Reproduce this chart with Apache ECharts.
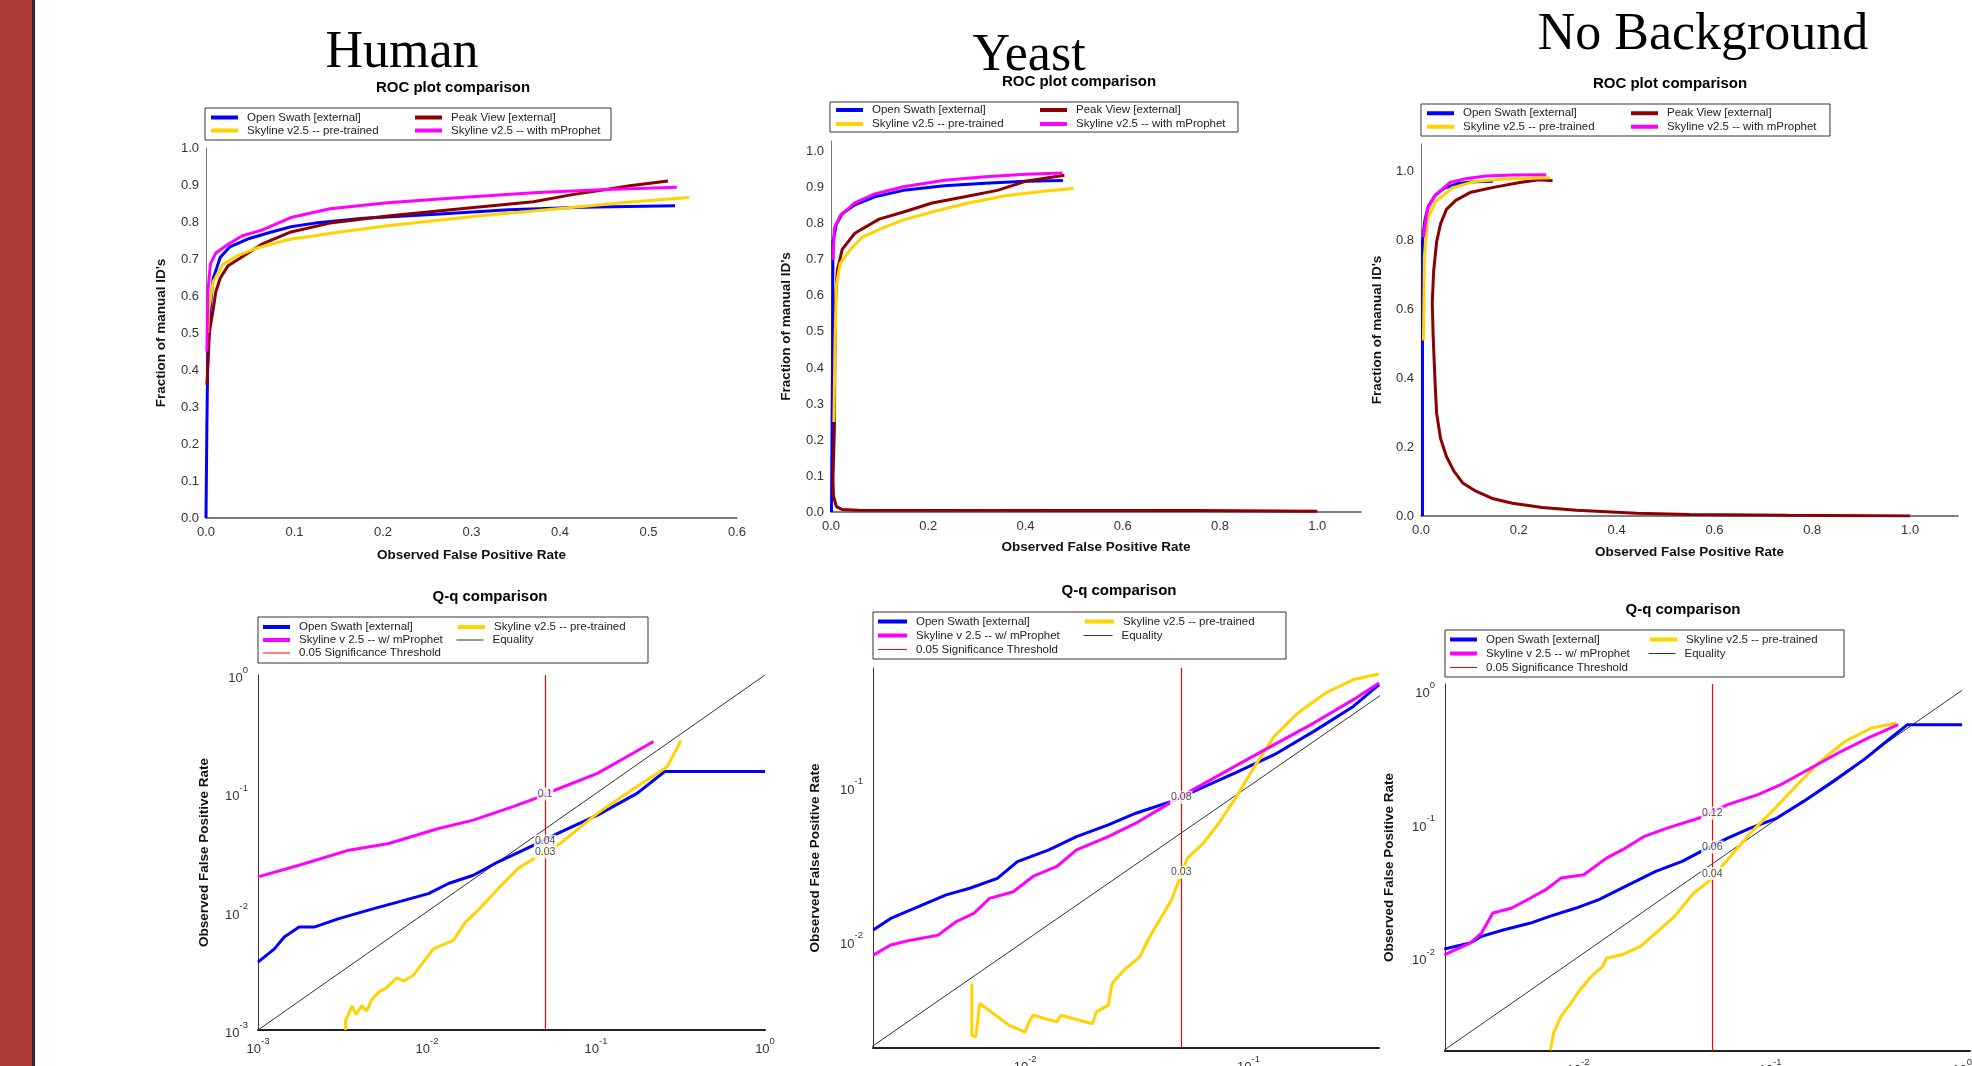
<!DOCTYPE html>
<html><head><meta charset="utf-8">
<script src="https://cdn.jsdelivr.net/npm/echarts@6/dist/echarts.min.js"></script>
<style>html,body{margin:0;padding:0;background:#fff}#c{width:1972px;height:1066px}</style>
</head><body><div id="c"></div>
<script>
// ---------- DATA ----------
const panelTitles = ['Human', 'Yeast', 'No Background'];
const rocTitle = 'ROC plot comparison';
const qqTitle = 'Q-q comparison';
const rocNames = ['Open Swath [external]', 'Peak View [external]', 'Skyline v2.5 -- pre-trained', 'Skyline v2.5 -- with mProphet'];
const qqNames = ['Open Swath [external]', 'Skyline v2.5 -- pre-trained', 'Skyline v 2.5 -- w/ mProphet', 'Equality', '0.05 Significance Threshold'];
const rocXName = 'Observed False Positive Rate', rocYName = "Fraction of manual ID's";
const qqXName = 'Expected False Positive Rate', qqYName = 'Observed False Positive Rate';

// ROC – Human
const rocHumanBlue = [[0,0],[0.001,0.25],[0.002,0.435],[0.004,0.55],[0.008,0.646],[0.016,0.704],[0.027,0.733],[0.047,0.754],[0.074,0.773],[0.096,0.787],[0.123,0.797],[0.178,0.81],[0.26,0.821],[0.342,0.833],[0.425,0.84],[0.53,0.844]];
const rocHumanRed = [[0.001,0.36],[0.004,0.505],[0.008,0.562],[0.011,0.61],[0.016,0.648],[0.025,0.682],[0.041,0.706],[0.063,0.74],[0.096,0.773],[0.14,0.797],[0.205,0.816],[0.288,0.836],[0.37,0.855],[0.414,0.874],[0.452,0.888],[0.479,0.898],[0.522,0.911]];
const rocHumanYellow = [[0.002,0.5],[0.003,0.562],[0.008,0.637],[0.019,0.685],[0.036,0.71],[0.058,0.73],[0.096,0.754],[0.123,0.763],[0.151,0.773],[0.205,0.79],[0.26,0.804],[0.315,0.818],[0.37,0.83],[0.425,0.842],[0.479,0.854],[0.546,0.866]];
const rocHumanMagenta = [[0.001,0.45],[0.002,0.61],[0.005,0.687],[0.011,0.716],[0.025,0.74],[0.041,0.763],[0.063,0.778],[0.096,0.812],[0.14,0.836],[0.205,0.852],[0.288,0.866],[0.37,0.879],[0.452,0.888],[0.532,0.894]];
// ROC – Yeast
const rocYeastBlue = [[0.001,0],[0.003,0.4],[0.004,0.749],[0.011,0.799],[0.023,0.828],[0.049,0.853],[0.09,0.875],[0.149,0.893],[0.233,0.906],[0.317,0.913],[0.4,0.918],[0.477,0.92]];
const rocYeastRed = [[1.0,0.002],[0.748,0.004],[0.057,0.005],[0.023,0.007],[0.011,0.015],[0.005,0.045],[0.004,0.094],[0.007,0.233],[0.008,0.43],[0.009,0.58],[0.013,0.67],[0.023,0.729],[0.049,0.774],[0.099,0.813],[0.149,0.833],[0.208,0.858],[0.275,0.875],[0.342,0.893],[0.4,0.918],[0.48,0.935]];
const rocYeastYellow = [[0.006,0.25],[0.008,0.45],[0.011,0.63],[0.019,0.69],[0.04,0.729],[0.065,0.764],[0.107,0.789],[0.149,0.811],[0.208,0.833],[0.275,0.856],[0.358,0.878],[0.442,0.891],[0.499,0.898]];
const rocYeastMagenta = [[0.004,0.7],[0.007,0.789],[0.019,0.823],[0.049,0.858],[0.09,0.883],[0.149,0.903],[0.233,0.921],[0.317,0.931],[0.4,0.938],[0.476,0.941]];
// ROC – No Background
const rocNoBgBlue = [[0.003,0],[0.003,0.8],[0.008,0.86],[0.015,0.9],[0.029,0.932],[0.048,0.953],[0.079,0.967],[0.11,0.971],[0.147,0.973]];
const rocNoBgRed = [[1.0,0.0],[0.75,0.002],[0.549,0.004],[0.441,0.008],[0.318,0.017],[0.248,0.025],[0.187,0.037],[0.148,0.05],[0.11,0.074],[0.086,0.095],[0.067,0.131],[0.052,0.173],[0.04,0.225],[0.032,0.298],[0.029,0.381],[0.025,0.516],[0.023,0.62],[0.026,0.714],[0.032,0.797],[0.04,0.849],[0.052,0.891],[0.071,0.917],[0.102,0.941],[0.148,0.955],[0.202,0.969],[0.241,0.977],[0.269,0.974]];
const rocNoBgYellow = [[0.005,0.51],[0.007,0.755],[0.013,0.86],[0.029,0.912],[0.063,0.953],[0.11,0.972],[0.171,0.979],[0.264,0.983]];
const rocNoBgMagenta = [[0.005,0.81],[0.013,0.892],[0.029,0.932],[0.059,0.969],[0.094,0.981],[0.133,0.988],[0.187,0.991],[0.256,0.992]];

// Q-q – Human
const qqHumanBlue = [[0.001,0.00374],[0.00125,0.00485],[0.00143,0.0061],[0.00175,0.00741],[0.00215,0.00741],[0.00301,0.00873],[0.00484,0.0106],[0.00679,0.0121],[0.0102,0.0142],[0.0134,0.0173],[0.0188,0.0203],[0.0264,0.0264],[0.0429,0.0365],[0.0594,0.0458],[0.102,0.0655],[0.175,0.1],[0.255,0.153],[1.0,0.153]];
const qqHumanMagenta = [[0.001,0.0197],[0.00175,0.0247],[0.00345,0.0331],[0.00594,0.0377],[0.0117,0.0505],[0.0188,0.0594],[0.0323,0.0771],[0.0469,0.0937],[0.0574,0.1067],[0.102,0.1476],[0.153,0.2046],[0.219,0.274]];
const qqHumanYellow = [[0.0033,0.001],[0.0033,0.0012],[0.0036,0.0016],[0.0038,0.00135],[0.0041,0.0016],[0.0044,0.00145],[0.0047,0.0018],[0.0052,0.0021],[0.0058,0.0023],[0.0066,0.00275],[0.0073,0.0026],[0.0083,0.0029],[0.0109,0.00485],[0.0143,0.00571],[0.0169,0.00817],[0.0201,0.0103],[0.0264,0.0157],[0.0345,0.0231],[0.0429,0.0281],[0.0614,0.0377],[0.102,0.0678],[0.175,0.114],[0.264,0.168],[0.318,0.278]];
const qqHumanLabelY = [0.0987, 0.0394, 0.032];
const qqHumanLabelText = ['0.1', '0.04', '0.03'];
// Q-q – Yeast
const qqYeastBlue = [[0.00209,0.01173],[0.0025,0.01396],[0.00333,0.01663],[0.00443,0.01982],[0.00565,0.0219],[0.00751,0.0254],[0.00923,0.0326],[0.01277,0.0388],[0.01698,0.0473],[0.02355,0.0564],[0.0313,0.0671],[0.0452,0.08],[0.0589,0.0951],[0.0867,0.1222],[0.1303,0.1607],[0.1959,0.2276],[0.2944,0.3304],[0.384,0.457]];
const qqYeastMagenta = [[0.00209,0.00807],[0.0025,0.00938],[0.00307,0.01009],[0.00408,0.01088],[0.0049,0.01328],[0.00589,0.01503],[0.00693,0.01882],[0.00885,0.0208],[0.01084,0.0261],[0.01386,0.0303],[0.01698,0.0388],[0.02355,0.0473],[0.0313,0.0578],[0.0443,0.078],[0.0589,0.0986],[0.0867,0.1349],[0.1303,0.1866],[0.1959,0.2576],[0.2944,0.3655],[0.384,0.469]];
const qqYeastYellow = [[0.00577,0.00528],[0.00577,0.00244],[0.00601,0.00238],[0.00626,0.00392],[0.00722,0.00337],[0.00849,0.00283],[0.01,0.00256],[0.01042,0.00298],[0.01084,0.00329],[0.01386,0.00298],[0.01442,0.00329],[0.02,0.0029],[0.02084,0.00346],[0.02355,0.00382],[0.0245,0.00528],[0.02767,0.00645],[0.0326,0.00787],[0.0361,0.01062],[0.04,0.01362],[0.0452,0.01837],[0.0532,0.0343],[0.0626,0.0428],[0.0736,0.0578],[0.0903,0.0906],[0.1064,0.1349],[0.1303,0.2114],[0.1663,0.2993],[0.2213,0.4035],[0.2944,0.4932],[0.384,0.5363]];
const qqYeastLabelY = [0.0849, 0.0278];
const qqYeastLabelText = ['0.08', '0.03'];
// Q-q – No Background
const qqNoBgBlue = [[0.00201,0.01148],[0.00229,0.01202],[0.00274,0.01274],[0.00314,0.01429],[0.00412,0.01603],[0.00566,0.01799],[0.00711,0.02018],[0.00977,0.02331],[0.01283,0.02692],[0.01765,0.0339],[0.02536,0.0439],[0.03483,0.0522],[0.04375,0.062],[0.0601,0.078],[0.0789,0.0927],[0.1086,0.1102],[0.1493,0.1469],[0.2145,0.2075],[0.3083,0.302],[0.4046,0.4145],[0.5194,0.5525],[1.0,0.5525]];
const qqNoBgMagenta = [[0.00201,0.0104],[0.00274,0.01274],[0.00314,0.01514],[0.0036,0.02138],[0.00452,0.02331],[0.00566,0.0277],[0.00679,0.032],[0.00815,0.0391],[0.01071,0.0414],[0.01406,0.0552],[0.01765,0.0656],[0.02215,0.0804],[0.02911,0.0927],[0.04277,0.1102],[0.0601,0.1388],[0.0865,0.1649],[0.1135,0.1959],[0.1633,0.2614],[0.2349,0.3487],[0.338,0.4519],[0.4645,0.5525]];
const qqNoBgYellow = [[0.00718,0.002],[0.00745,0.00269],[0.00815,0.00359],[0.00893,0.00427],[0.01023,0.00569],[0.01173,0.00716],[0.01343,0.00851],[0.01406,0.00982],[0.01686,0.0104],[0.02115,0.01202],[0.02536,0.01514],[0.03181,0.02018],[0.04,0.0302],[0.04791,0.0369],[0.0601,0.0537],[0.0789,0.0851],[0.1086,0.1349],[0.1361,0.1905],[0.1786,0.2851],[0.2459,0.4145],[0.338,0.5216],[0.454,0.5689]];
const qqNoBgLabelY = [0.12, 0.0668, 0.0422];
const qqNoBgLabelText = ['0.12', '0.06', '0.04'];

const qqThreshold = 0.05;
const qqEquality = [[0.001,0.001],[1,1]];

// ---------- STYLE / LAYOUT ----------
const COL = {blue:'#0000ff', red:'#8b0000', gold:'#ffd200', mag:'#ff00ff', eq:'#333333', thr:'#ff0000'};
const SANS = 'Liberation Sans, Arial, sans-serif';
const CURVE_W = 3;

const rocPanels = [
  {grid:{left:206,top:148,width:531,height:370}, x:[0,0.6,0.1], y:[0,1.0,0.1], xGap:30, yGap:38,
   data:[rocHumanBlue, rocHumanRed, rocHumanYellow, rocHumanMagenta],
   leg:{left:205,top:108,w:402,h:32,lineX:209,len:27,col2:411,rowH:13}},
  {grid:{left:831,top:141,width:530,height:371}, x:[0,1.09,0.2], y:[0,1.03,0.1], xGap:28, yGap:38,
   data:[rocYeastBlue, rocYeastRed, rocYeastYellow, rocYeastMagenta],
   leg:{left:830,top:102,w:404,h:30,lineX:834,len:27,col2:1036,rowH:14}},
  {grid:{left:1421,top:144,width:537,height:372}, x:[0,1.098,0.2], y:[0,1.081,0.2], xGap:29, yGap:37,
   data:[rocNoBgBlue, rocNoBgRed, rocNoBgYellow, rocNoBgMagenta],
   leg:{left:1421,top:104,w:405,h:32,lineX:1425,len:27,col2:1627,rowH:13.5}}
];
const qqPanels = [
  {grid:{left:258,top:675,width:507,height:355}, x:[0.001,1], y:[0.001,1], yGap:47,
   data:[qqHumanBlue, qqHumanYellow, qqHumanMagenta], labY:qqHumanLabelY, labT:qqHumanLabelText,
   leg:{left:258,top:617,w:386,h:46,lineX:261,len:27,col2:454,rowH:13}},
  {grid:{left:873,top:668,width:506,height:380}, x:[0.002084,0.3837], y:[0.002018,0.5861], yGap:51,
   data:[qqYeastBlue, qqYeastYellow, qqYeastMagenta], labY:qqYeastLabelY, labT:qqYeastLabelText,
   leg:{left:873,top:612,w:409,h:47,lineX:876,len:29,col2:1081,rowH:14}},
  {grid:{left:1445,top:684,width:525,height:367}, x:[0.002028,1.099], y:[0.001977,1.114], yGap:49,
   data:[qqNoBgBlue, qqNoBgYellow, qqNoBgMagenta], labY:qqNoBgLabelY, labT:qqNoBgLabelText,
   leg:{left:1445,top:630,w:395,h:47,lineX:1448,len:27,col2:1646,rowH:14}}
];
const titlePos = [[402,53],[1029,56],[1703,35]];
const rocTitlePos = [[453,88],[1079,82],[1670,84]];
const qqTitlePos = [[490,597],[1119,591],[1683,610]];

function fmtVal(step){
  return function(v){ const k=v/step; if(Math.abs(k-Math.round(k))>1e-6) return ''; return v.toFixed(1); };
}
function fmtLog(v){
  const e=Math.log10(v), r=Math.round(e);
  if(Math.abs(e-r)>1e-6) return '';
  return '{b|10}{s|'+r+'}';
}
const logRich = {
  b:{fontSize:13, color:'#333', fontFamily:SANS, verticalAlign:'bottom', lineHeight:20},
  s:{fontSize:9.5, color:'#333', fontFamily:SANS, verticalAlign:'top', lineHeight:20}
};

function mkLegend(L, names, thin){
  const pl = L.lineX - L.left, pr = 4;
  const rows = Math.ceil(names.length/2);
  const pt = (L.h - rows*L.rowH)/2, pb = L.h - rows*L.rowH - pt;
  const C = L.col2 - L.lineX;
  const w1 = C - L.len - 9;
  const w2 = L.w - pl - pr - C - L.len - 9;
  return {
    left:L.left, top:L.top, orient:'horizontal',
    width: C + L.len + 9 + w2 + 30,
    padding:[pt, pr, pb, pl],
    itemWidth:L.len, itemHeight:L.rowH, itemGap:0,
    borderColor:'#333', borderWidth:1, backgroundColor:'#fff',
    selectedMode:false,
    itemStyle:{opacity:0},
    textStyle:{fontSize:11.5, color:'#222', fontFamily:SANS, lineHeight:L.rowH, padding:[0,0,0,4]},
    data:names.map((n,i)=>({name:n, textStyle:{width: i%2===0 ? w1 : w2},
      lineStyle:{width: (thin && thin.indexOf(n)>=0) ? 1 : 4}}))
  };
}

const grid=[], xAxis=[], yAxis=[], series=[], legend=[], graphic=[];

graphic.push({type:'rect', shape:{x:0,y:0,width:32,height:1066}, style:{fill:'#b03a3a'}, silent:true});
graphic.push({type:'rect', shape:{x:32,y:0,width:3,height:1066}, style:{fill:'#2a2a2a'}, silent:true});

function txt(x,y,text,font){
  return {type:'text', x:x, y:y, silent:true,
    style:{text:text, font:font, fill:'#000', align:'center', verticalAlign:'middle', textAlign:'center', textVerticalAlign:'middle'}};
}
panelTitles.forEach((t,i)=>graphic.push(txt(titlePos[i][0], titlePos[i][1], t, '52px "Liberation Serif", "Times New Roman", serif')));
rocTitlePos.forEach(p=>graphic.push(txt(p[0], p[1], rocTitle, 'bold 15px '+SANS)));
qqTitlePos.forEach(p=>graphic.push(txt(p[0], p[1], qqTitle, 'bold 15px '+SANS)));

const nameStyle = {fontWeight:'bold', fontSize:13.5, color:'#111', fontFamily:SANS};

rocPanels.forEach((P,i)=>{
  const g = grid.length;
  grid.push(Object.assign({containLabel:false, outerBoundsMode:'none'}, P.grid));
  xAxis.push({gridIndex:g, type:'value', min:P.x[0], max:P.x[1], interval:P.x[2],
    axisLine:{show:true, onZero:false, lineStyle:{color:'#555', width:1.5}}, axisTick:{show:false}, splitLine:{show:false},
    axisLabel:{formatter:fmtVal(P.x[2]), color:'#333', fontSize:13, fontFamily:SANS, margin:8},
    name:rocXName, nameLocation:'middle', nameGap:P.xGap, nameMoveOverlap:false, nameTextStyle:nameStyle});
  yAxis.push({gridIndex:g, type:'value', min:P.y[0], max:P.y[1], interval:P.y[2],
    axisLine:{show:true, onZero:false, lineStyle:{color:'#777', width:1}}, axisTick:{show:false}, splitLine:{show:false},
    axisLabel:{formatter:fmtVal(P.y[2]), color:'#333', fontSize:13, fontFamily:SANS, margin:7},
    name:rocYName, nameLocation:'middle', nameGap:P.yGap, nameMoveOverlap:false, nameTextStyle:nameStyle});
  const cols = [COL.blue, COL.red, COL.gold, COL.mag];
  P.data.forEach((d,k)=>{
    series.push({type:'line', name:rocNames[k], xAxisIndex:g, yAxisIndex:g, data:d, symbol:'none', showSymbol:false,
      clip:true, lineStyle:{color:cols[k], width:CURVE_W}, itemStyle:{color:cols[k]}, z:2+k});
  });
  legend.push(mkLegend(P.leg, rocNames));
});

qqPanels.forEach((P,i)=>{
  const g = grid.length;
  grid.push(Object.assign({containLabel:false, outerBoundsMode:'none'}, P.grid));
  xAxis.push({gridIndex:g, type:'log', logBase:10, min:P.x[0], max:P.x[1],
    axisLine:{show:true, onZero:false, lineStyle:{color:'#222', width:2}}, axisTick:{show:false}, splitLine:{show:false}, minorTick:{show:false},
    axisLabel:{formatter:fmtLog, rich:logRich, margin:6},
    name:qqXName, nameLocation:'middle', nameGap:34, nameMoveOverlap:false, nameTextStyle:nameStyle});
  yAxis.push({gridIndex:g, type:'log', logBase:10, min:P.y[0], max:P.y[1],
    axisLine:{show:true, onZero:false, lineStyle:{color:'#333', width:1}}, axisTick:{show:false}, splitLine:{show:false}, minorTick:{show:false},
    axisLabel:{formatter:fmtLog, rich:logRich, margin:10},
    name:qqYName, nameLocation:'middle', nameGap:P.yGap, nameMoveOverlap:false, nameTextStyle:nameStyle});
  series.push({type:'line', name:'Equality', xAxisIndex:g, yAxisIndex:g, data:qqEquality, symbol:'none', clip:true,
    lineStyle:{color:COL.eq, width:1}, itemStyle:{color:COL.eq}, z:2});
  series.push({type:'line', name:'0.05 Significance Threshold', xAxisIndex:g, yAxisIndex:g, data:[], symbol:'none',
    lineStyle:{color:COL.thr, width:1}, itemStyle:{color:COL.thr}, z:3,
    markLine:{symbol:'none', silent:true, animation:false, label:{show:false}, lineStyle:{color:COL.thr, width:1.2, type:'solid'},
      emphasis:{disabled:true}, data:[{xAxis:qqThreshold}]}});
  const cols = [COL.blue, COL.gold, COL.mag];
  P.data.forEach((d,k)=>{
    series.push({type:'line', name:qqNames[k], xAxisIndex:g, yAxisIndex:g, data:d, symbol:'none', showSymbol:false,
      clip:true, lineStyle:{color:cols[k], width:CURVE_W}, itemStyle:{color:cols[k]}, z:4+k});
  });
  series.push({type:'scatter', xAxisIndex:g, yAxisIndex:g, symbolSize:1, silent:true, z:20,
    itemStyle:{color:'rgba(0,0,0,0)'},
    data:P.labY.map((y,j)=>({value:[qqThreshold, y], label:{formatter:P.labT[j]}})),
    label:{show:true, position:'inside', backgroundColor:'#fff', padding:[1,1], fontSize:10.5, color:'#222', fontFamily:SANS}});
  legend.push(mkLegend(P.leg, qqNames, ['Equality', '0.05 Significance Threshold']));
});

const chart = echarts.init(document.getElementById('c'), null, {renderer:'canvas'});
chart.setOption({backgroundColor:'#fff', animation:false, grid, xAxis, yAxis, series, legend, graphic});
</script>
</body></html>
